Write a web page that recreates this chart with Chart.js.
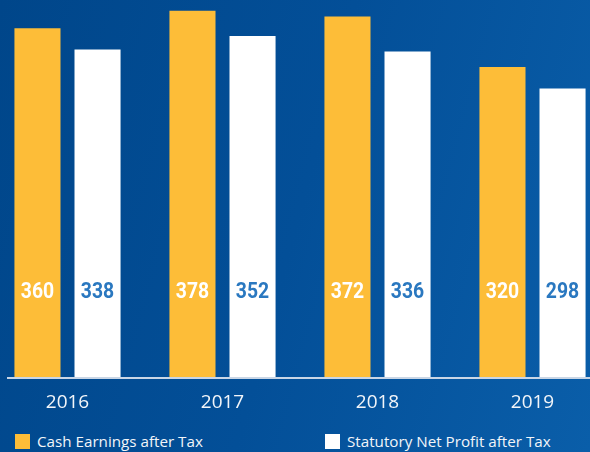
<!DOCTYPE html>
<html>
<head>
<meta charset="utf-8">
<script src="https://cdn.jsdelivr.net/npm/chart.js@4"></script>
<style>
  html, body { margin: 0; padding: 0; }
  body {
    width: 590px; height: 452px; overflow: hidden; position: relative;
    background: linear-gradient(105deg, #00468a 0%, #034f98 50%, #0a5ea9 100%);
  }
  .wrap { position: absolute; left: -10px; top: 0; width: 620px; height: 420px; }
  .legend { position: absolute; top: 433px; left: 0; width: 590px; font-family: "Open Sans", sans-serif; font-size: 15.2px; color: #f2f5f9; }
  .legend span.item { position: absolute; top: -3px; white-space: nowrap; line-height: 22px; }
  .legend i { display: inline-block; width: 15px; height: 15px; vertical-align: -2px; margin-right: 7px; }
</style>
</head>
<body>
<div class="wrap"><canvas id="c"></canvas></div>
<div class="legend" id="legend"></div>
<script>
const years = ['2016', '2017', '2018', '2019'];
const cashEarnings = [360, 378, 372, 320];
const statutoryProfit = [338, 352, 336, 298];
const seriesNames = ['Cash Earnings after Tax', 'Statutory Net Profit after Tax'];
const barColors = ['#fdbd38', '#ffffff'];
const labelColors = ['#ffffff', '#2a78c0'];

// value labels sit at a fixed height above the axis, squeezed a bit to look condensed
const valueLabels = {
  id: 'valueLabels',
  afterDatasetsDraw(chart) {
    const ctx = chart.ctx;
    ctx.save();
    ctx.font = 'bold 22px Roboto, sans-serif';
    ctx.textAlign = 'center';
    ctx.textBaseline = 'middle';
    chart.data.datasets.forEach((ds, di) => {
      chart.getDatasetMeta(di).data.forEach((bar, i) => {
        ctx.save();
        ctx.translate(bar.x, chart.chartArea.bottom - 86);
        ctx.scale(0.88, 1);
        ctx.fillStyle = labelColors[di];
        ctx.fillText(ds.data[i], 0, 0);
        ctx.restore();
      });
    });
    // axis line
    ctx.strokeStyle = '#c9d6e6';
    ctx.lineWidth = 2;
    ctx.beginPath();
    ctx.moveTo(17, chart.chartArea.bottom);
    ctx.lineTo(chart.width, chart.chartArea.bottom);
    ctx.stroke();
    ctx.restore();
  }
};

const chart = new Chart(document.getElementById('c'), {
  type: 'bar',
  data: {
    labels: years,
    datasets: [
      { label: seriesNames[0], data: cashEarnings, backgroundColor: barColors[0] },
      { label: seriesNames[1], data: statutoryProfit, backgroundColor: barColors[1] }
    ]
  },
  options: {
    responsive: true,
    maintainAspectRatio: false,
    animation: false,
    layout: { padding: 0 },
    categoryPercentage: 0.775,
    barPercentage: 0.767,
    plugins: { legend: { display: false }, tooltip: { enabled: false } },
    scales: {
      x: {
        grid: { display: false, drawTicks: false },
        border: { display: false },
        ticks: { color: '#f2f5f9', font: { family: '"Open Sans", sans-serif', size: 19 }, padding: 13 },
        afterFit(scale) { scale.height = 42; }
      },
      y: { display: false, min: 0, max: 389 }
    }
  },
  plugins: [valueLabels]
});

// legend built from the datasets
const legend = document.getElementById('legend');
const legendX = [15, 325];
chart.data.datasets.forEach((ds, i) => {
  const s = document.createElement('span');
  s.className = 'item';
  s.style.left = legendX[i] + 'px';
  s.innerHTML = '<i style="background:' + ds.backgroundColor + '"></i>' + ds.label;
  legend.appendChild(s);
});
</script>
</body>
</html>
